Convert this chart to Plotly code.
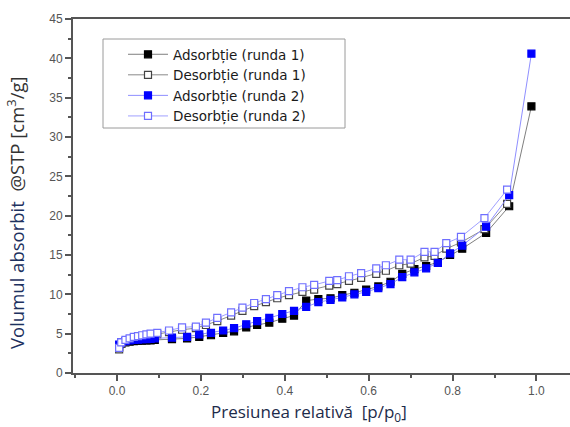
import plotly.graph_objects as go

# ---- data ----
x_ads = [0.005, 0.01, 0.02, 0.03, 0.04, 0.05, 0.06, 0.07, 0.08, 0.09,
         0.131, 0.167, 0.196, 0.224, 0.253, 0.279, 0.308, 0.334, 0.363, 0.394,
         0.422, 0.451, 0.48, 0.509, 0.537, 0.566, 0.594, 0.623, 0.652, 0.68,
         0.709, 0.737, 0.765, 0.794, 0.823, 0.88, 0.935, 0.988]
ads_r1 = [3.3, 3.7, 3.9, 4.0, 4.05, 4.1, 4.1, 4.15, 4.15, 4.2,
          4.3, 4.4, 4.6, 4.8, 5.1, 5.3, 5.8, 6.1, 6.4, 6.9,
          7.3, 9.2, 9.4, 9.5, 9.9, 10.2, 10.6, 11.0, 11.6, 12.6,
          13.2, 13.6, 14.1, 15.0, 15.8, 17.8, 21.2, 33.9]
ads_r2 = [3.6, 3.9, 4.05, 4.15, 4.2, 4.25, 4.3, 4.3, 4.35, 4.4,
          4.5, 4.6, 4.9, 5.1, 5.4, 5.7, 6.2, 6.6, 7.0, 7.5,
          7.9, 8.4, 9.0, 9.3, 9.6, 10.0, 10.3, 10.8, 11.3, 12.2,
          12.8, 13.3, 14.0, 15.2, 16.2, 18.6, 22.6, 40.6]

x_des = [0.005, 0.01, 0.02, 0.03, 0.04, 0.05, 0.06, 0.07, 0.08, 0.096,
         0.124, 0.155, 0.188, 0.212, 0.239, 0.272, 0.299, 0.327, 0.355, 0.382,
         0.41, 0.442, 0.47, 0.506, 0.525, 0.553, 0.582, 0.618, 0.641, 0.673,
         0.70, 0.733, 0.757, 0.785, 0.82, 0.876, 0.93]
des_r1 = [3.0, 3.7, 4.0, 4.2, 4.4, 4.5, 4.6, 4.7, 4.8, 4.9,
          5.2, 5.5, 5.7, 6.1, 6.6, 7.3, 7.9, 8.5, 9.0, 9.5,
          9.9, 10.3, 10.6, 11.1, 11.3, 11.7, 12.1, 12.6, 13.0, 13.7,
          13.9, 14.7, 14.9, 15.8, 16.6, 18.3, 21.5]
des_r2 = [3.2, 3.9, 4.2, 4.4, 4.6, 4.7, 4.8, 4.9, 5.0, 5.1,
          5.4, 5.8, 5.9, 6.4, 7.0, 7.7, 8.3, 8.9, 9.4, 9.9,
          10.4, 10.9, 11.2, 11.7, 11.8, 12.3, 12.7, 13.3, 13.7, 14.4,
          14.4, 15.4, 15.4, 16.5, 17.3, 19.7, 23.3]

names = ["Adsorbție (runda 1)", "Desorbție (runda 1)",
         "Adsorbție (runda 2)", "Desorbție (runda 2)"]

fig = go.Figure()

def add(x, y, name, line_col, fill, border):
    fig.add_trace(go.Scatter(
        x=x, y=y, name=name, mode="lines+markers",
        line=dict(color=line_col, width=1),
        marker=dict(symbol="square", size=7, color=fill,
                    line=dict(color=border, width=1.2)),
    ))

add(x_ads, ads_r1, names[0], "#7f7f7f", "#000000", "#000000")
add(x_des, des_r1, names[1], "#8a8a8a", "#ffffff", "#444444")
add(x_ads, ads_r2, names[2], "#8f8fff", "#0000ff", "#0000ff")
add(x_des, des_r2, names[3], "#a0a0ff", "#ffffff", "#6f6fff")

tickfont = dict(family="Liberation Sans, Arial", size=12, color="#555555")

fig.update_layout(
    width=570, height=427,
    margin=dict(l=73, r=0, t=19, b=54),
    paper_bgcolor="white", plot_bgcolor="white",
    showlegend=True,
    legend=dict(x=(123 - 73) / 497, y=(373 - 39) / 354, xanchor="left", yanchor="top",
                bgcolor="rgba(0,0,0,0)", borderwidth=0,
                font=dict(family="DejaVu Sans", size=13.5, color="#1a1a1a"),
                tracegroupgap=0, itemwidth=40),
    xaxis=dict(range=[-0.105, 1.08], dtick=0.2, tick0=0, tickformat=".1f",
               showgrid=False, zeroline=False,
               showline=True, linecolor="#555555", linewidth=2, mirror=True,
               ticks="outside", ticklen=6, tickwidth=1.5, tickcolor="#555555",
               minor=dict(ticks="outside", ticklen=3, dtick=0.1, tickcolor="#555555", tickwidth=1.5),
               tickfont=tickfont),
    yaxis=dict(range=[0, 45], dtick=5, showgrid=False, zeroline=False,
               showline=True, linecolor="#555555", linewidth=2, mirror=False,
               ticks="outside", ticklen=6, tickwidth=1.5, tickcolor="#555555",
               minor=dict(ticks="outside", ticklen=3, dtick=2.5, tickcolor="#555555", tickwidth=1.5),
               tickfont=tickfont),
    shapes=[dict(type="rect", xref="paper", yref="paper",
                 x0=(103 - 73) / 497, x1=(345 - 73) / 497,
                 y0=(373 - 128) / 354, y1=(373 - 39) / 354,
                 line=dict(color="#9a9a9a", width=1), fillcolor="rgba(0,0,0,0)")],
    annotations=[
        dict(xref="paper", yref="paper", x=(16 - 73) / 497, y=(373 - 213) / 354,
             text="<span style='color:#1d3160'>Volumul absorbit</span>  @STP [cm<sup>3</sup>/g]",
             textangle=-90, showarrow=False, xanchor="center", yanchor="middle",
             font=dict(family="Open Sans", size=18.5, color="#333333")),
        dict(xref="paper", yref="paper", x=(309 - 73) / 497, y=(373 - 412) / 354,
             text="Presiunea relativă  [p/p<sub>0</sub>]",
             showarrow=False, xanchor="center", yanchor="middle",
             font=dict(family="Open Sans", size=17, color="#1d2b4a")),
    ],
)

fig.write_html("out.html")
